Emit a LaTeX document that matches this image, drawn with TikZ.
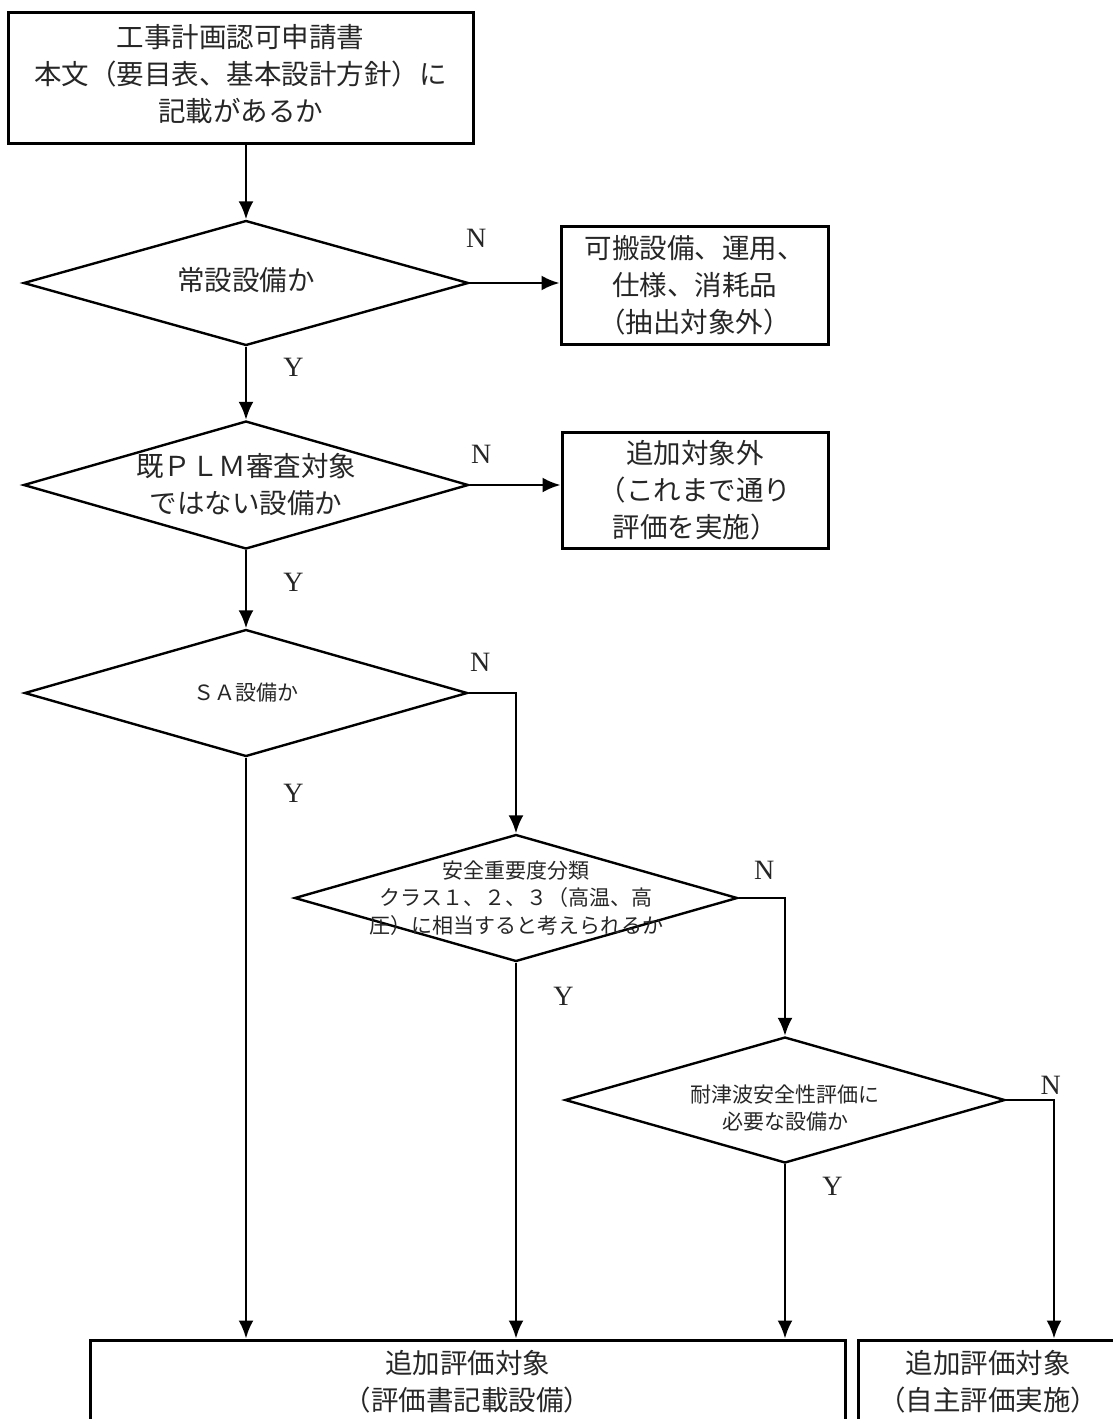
\documentclass[tikz,border=0pt]{standalone}
\usepackage{fontspec}
\setmainfont{Liberation Serif}
\newfontfamily\jp{Noto Sans CJK JP}
\usetikzlibrary{positioning}
\usetikzlibrary{shapes.geometric,arrows.meta}
\usetikzlibrary{calc}

\begin{document}
\begin{tikzpicture}[x=1pt,y=-1pt,
  box/.style={draw,line width=3pt,inner sep=0pt,align=center,text=black!85},
  dec/.style={diamond,draw,line width=2.4pt,inner sep=0pt},
  qtext/.style={align=center,text=black!85,inner sep=0pt},
  arr/.style={-{Latex[length=18pt,width=15pt]},line width=2.6pt},
  lab/.style={font=\fontsize{28}{28}\selectfont,text=black!85,inner sep=0pt},
  big/.style={font=\jp\fontsize{27.5}{37}\selectfont},
  small/.style={font=\jp\fontsize{21}{27.5}\selectfont}]
\useasboundingbox (0,0) rectangle (1113,1419);

\node[box,big,minimum width=465pt,minimum height=131pt] (start) at (240.5,77.5) {工事計画認可申請書\\本文（要目表、基本設計方針）に\\記載があるか\\[-27pt]};

\node[dec,minimum width=445pt,minimum height=125pt,label={[qtext,big,yshift=3pt]center:常設設備か}] (d1) at (246,283) {};
\node[box,big,minimum width=267pt,minimum height=118pt] (box2) at (694.5,285) {可搬設備、運用、\\仕様、消耗品\\（抽出対象外）};

\node[dec,minimum width=445pt,minimum height=128pt,label={[qtext,big]center:既ＰＬＭ審査対象\\ではない設備か}] (d2) at (246,485) {};
\node[box,big,minimum width=266pt,minimum height=116pt] (box3) at (695,490) {追加対象外\\（これまで通り\\評価を実施）};

\node[dec,minimum width=443pt,minimum height=127pt,label={[qtext,small]center:ＳＡ設備か}] (d3) at (246,693) {};
\node[dec,minimum width=443pt,minimum height=127pt,label={[qtext,small]center:安全重要度分類\\クラス１、２、３（高温、高\\圧）に相当すると考えられるか}] (d4) at (516,898) {};
\node[dec,minimum width=440pt,minimum height=126pt,label={[qtext,small,yshift=-8pt]center:耐津波安全性評価に\\必要な設備か}] (d5) at (785,1100) {};

\node[box,big,minimum width=755pt,minimum height=84pt] (res) at (467.5,1382) {追加評価対象\\（評価書記載設備）};
\node[box,big,minimum width=260pt,minimum height=84pt] (sub) at (988,1382) {追加評価対象\\（自主評価実施）};
\coordinate (nc) at (1054,0);

\draw[arr] (start.south -| d1.north) -- (d1.north);
\draw[arr] (d1.east) -- node[lab,pos=0,anchor=south west,xshift=-5pt,yshift=34pt]{N} (d1.east -| box2.west);
\draw[arr] (d2.east) -- node[lab,pos=0,anchor=south west,yshift=20pt]{N} (d2.east -| box3.west);
\foreach \s/\t/\dy in {d1/d2/10,d2/d3/22} {
  \draw[arr] (\s.south) -- node[lab,pos=0,anchor=north west,xshift=36pt,yshift=-\dy pt]{Y} (\t.north);
  }
\draw[arr] (d3.east) -| node[lab,pos=0,anchor=south west,yshift=20pt]{N} (d4.north);
\draw[arr] (d4.east) -| node[lab,pos=0,anchor=south west,xshift=14pt,yshift=17pt]{N} (d5.north);
\draw[arr] (d5.east) -| node[lab,pos=0,anchor=south west,xshift=33pt,yshift=4pt]{N} (nc |- sub.north);
\foreach \s/\dy in {d3/25,d4/23,d5/12} {
  \draw[arr] (\s.south) -- node[lab,pos=0,anchor=north west,xshift=36pt,yshift=-\dy pt]{Y} (\s.south |- res.north);
  }
\end{tikzpicture}
\end{document}
